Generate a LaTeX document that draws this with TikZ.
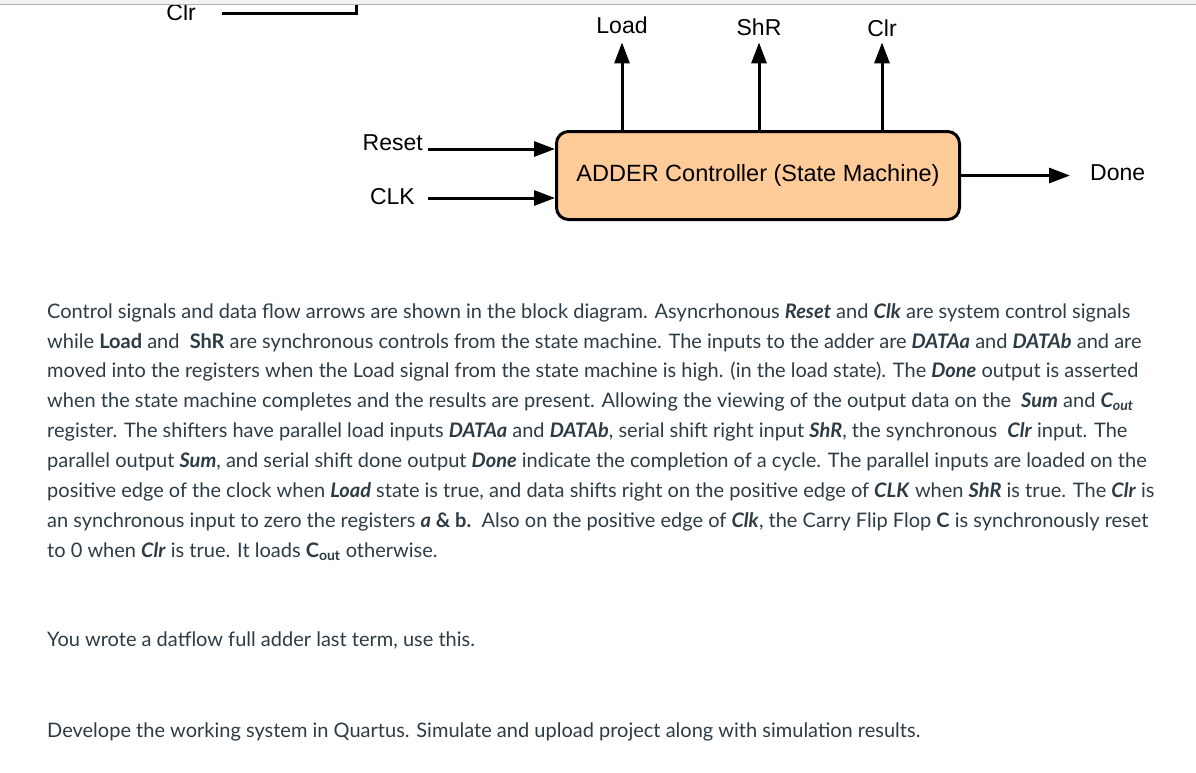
\documentclass[tikz,border=0pt]{standalone}
\usepackage{fontspec}
\setmainfont{Lato}
\newfontfamily\arial{Liberation Sans}
\usetikzlibrary{arrows.meta,positioning,calc}
\definecolor{peach}{HTML}{FFCC99}
\definecolor{ink}{HTML}{2D3B45}
\definecolor{band}{HTML}{F2F2F2}
\definecolor{rule}{HTML}{B4B4B4}
\newcommand{\bi}[1]{\textbf{\textit{#1}}}

\begin{document}
\begin{tikzpicture}[x=1pt, y=-1pt,
    lbl/.style={font=\arial\fontsize{23}{23}\selectfont, inner sep=0pt},
    sig/.style={line width=3pt, -{Triangle[length=21pt,width=15pt]}},
    wire/.style={line width=3pt},
    txt/.style={anchor=base west, inner sep=0pt, text=ink, font=\fontsize{20}{30}\selectfont}]
    \useasboundingbox (0,0) rectangle (1196,772);

    % state machine block
    \node[draw, line width=3pt, fill=peach, rounded corners=12pt, minimum width=403pt, minimum height=88pt,
          font=\arial\fontsize{23.5}{23.5}\selectfont] (ctrl) at (758,175.5) {ADDER Controller (State Machine)};

    % outputs
    \node[lbl, anchor=base] (load) at (622,33) {Load};
    \node[lbl, anchor=base] (shr) at (759,35) {ShR};
    \node[lbl, anchor=base] (clr) at (882,36) {Clr};
    \draw[sig] (ctrl.north -| load) -- ([yshift=-9pt]load.south);
    \draw[sig] (ctrl.north -| shr) -- ([yshift=-7pt]shr.south);
    \draw[sig] (ctrl.north -| clr) -- ([yshift=-6pt]clr.south);
    \node[lbl, anchor=base west] (done) at (1090,180) {Done};
    \draw[sig, shorten >=20pt] (ctrl.east) -- (ctrl.east -| done.west);

    % inputs
    \node[lbl, anchor=base east] (reset) at (423,150.5) {Reset};
    \node[lbl, anchor=base east] (clk) at (415,204) {CLK};
    \coordinate (resetin) at ($(reset.base east)+(5,-1.5)$);
    \coordinate (clkin) at ($(clk.base east)+(13,-6)$);
    \draw[sig] (resetin) -- (resetin -| ctrl.west);
    \draw[sig] (clkin) -- (clkin -| ctrl.west);

    % Clr wire cut by the top edge
    \node[lbl, anchor=base east] (clrin) at (196,20) {Clr};
    \coordinate (clrup) at (356,0);
    \draw[wire] ($(clrin.east)+(26,2)$) -| (clrup);
    \fill[band] (0,0) rectangle (1196,4);
    \draw[rule, line width=1pt] (0,4.5) -- (1196,4.5);

    % text below the diagram
    \node[txt] (p1) at (47,318) {Control signals and data flow arrows are shown in the block diagram. Asyncrhonous \bi{Reset} and \bi{Clk} are system control signals};
    \node[txt] (p2) at (47,348) {while \textbf{Load} and\ \ \textbf{ShR} are synchronous controls from the state machine. The inputs to the adder are \bi{DATAa} and \bi{DATAb} and are};
    \node[txt] (p3) at (47,377) {moved into the registers when the Load signal from the state machine is high. (in the load state). The \bi{Done} output is asserted};
    \node[txt] (p4) at (47,407) {when the state machine completes and the results are present. Allowing the viewing of the output data on the\ \ \bi{Sum} and \bi{C\textsubscript{out}}};
    \node[txt] (p5) at (47,437) {register. The shifters have parallel load inputs \bi{DATAa} and \bi{DATAb}, serial shift right input \bi{ShR}, the synchronous\ \ \bi{Clr} input. The};
    \node[txt] (p6) at (47,467) {parallel output \bi{Sum}, and serial shift done output \bi{Done} indicate the completion of a cycle. The parallel inputs are loaded on the};
    \node[txt] (p7) at (47,497) {positive edge of the clock when \bi{Load} state is true, and data shifts right on the positive edge of \bi{CLK} when \bi{ShR} is true. The \bi{Clr} is};
    \node[txt] (p8) at (47,527) {an synchronous input to zero the registers \textbf{\textit{a} \& b.}\ \ Also on the positive edge of \bi{Clk}, the Carry Flip Flop \textbf{C} is synchronously reset};
    \node[txt] (p9) at (47,557) {to 0 when \bi{Clr} is true. It loads \textbf{C\textsubscript{out}} otherwise.};
    \node[txt] (p10) at (47,646) {You wrote a datflow full adder last term, use this.};
    \node[txt] (p11) at (47,737) {Develope the working system in Quartus. Simulate and upload project along with simulation results.};
\end{tikzpicture}
\end{document}
